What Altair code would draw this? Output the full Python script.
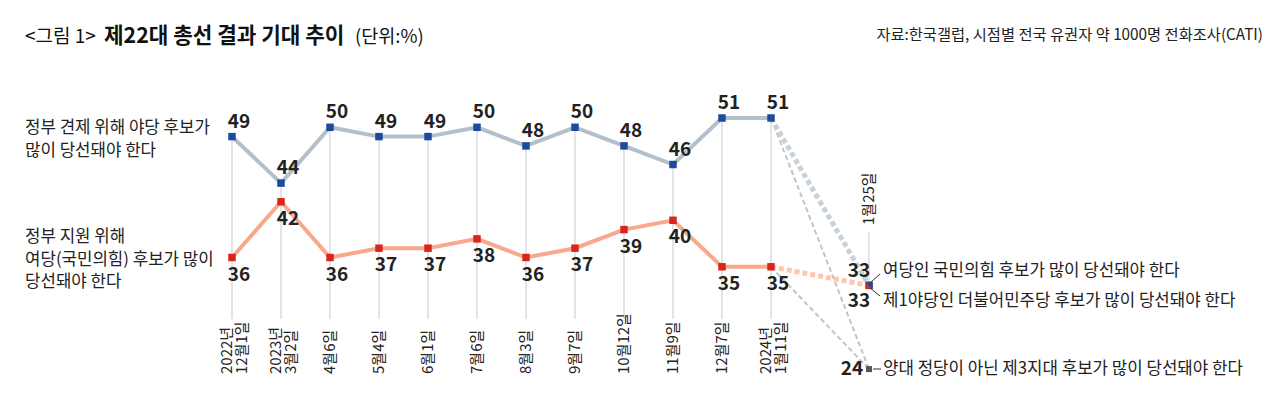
import altair as alt
import pandas as pd

# ---------------- data ----------------
dates = ["2022년\n12월1일", "2023년\n3월2일", "4월6일", "5월4일", "6월1일", "7월6일",
         "8월3일", "9월7일", "10월12일", "11월9일", "12월7일", "2024년\n1월11일"]
oppose = [49, 44, 50, 49, 49, 50, 48, 50, 48, 46, 51, 51]
support = [36, 42, 36, 37, 37, 38, 36, 37, 39, 40, 35, 35]

final_date = "1월25일"
final_labels = ["여당인 국민의힘 후보가 많이 당선돼야 한다",
                "제1야당인 더불어민주당 후보가 많이 당선돼야 한다",
                "양대 정당이 아닌 제3지대 후보가 많이 당선돼야 한다"]
final_values = [33, 33, 24]

series_names = ["정부 견제 위해 야당 후보가\n많이 당선돼야 한다",
                "정부 지원 위해\n여당(국민의힘) 후보가 많이\n당선돼야 한다"]
title_parts = ["<그림 1>", "제22대 총선 결과 기대 추이", "(단위:%)"]
source_text = "자료:한국갤럽, 시점별 전국 유권자 약 1000명 전화조사(CATI)"

FONT = "Noto Sans CJK KR"
W, H = 1264, 383

n = len(dates)
last = n - 1
fin = n + 1  # one empty slot before the final survey

main = pd.DataFrame({"i": list(range(n)), "date": dates, "opp": oppose, "sup": support,
                     "multi": [1 if "\n" in d else 0 for d in dates]})
final = pd.DataFrame({"i": [fin] * 3, "v": final_values, "lab": final_labels,
                      "num": [str(v) for v in final_values]})

xs = alt.Scale(domain=[-224 / 49, (W - 224) / 49], nice=False, zero=False)
ys = alt.Scale(domain=[51 - (H - 110) / 9.3, 51 + 110 / 9.3], nice=False, zero=False)


def X(f="i"):
    return alt.X(f"{f}:Q", scale=xs, axis=None)


def Y(f):
    return alt.Y(f"{f}:Q", scale=ys, axis=None)


base = alt.Chart(main)

grid = base.mark_rule(color="#c9c9c9", strokeWidth=1).encode(
    x=X(), y=Y("opp"), y2=alt.value(311))

fin_grid = alt.Chart(pd.DataFrame({"i": [fin], "v": [final_values[0]]})).mark_rule(
    color="#c9c9c9", strokeWidth=1).encode(x=X(), y=Y("v"), y2=alt.value(224))

# connectors from last survey to the final survey
seg_gray = pd.DataFrame({
    "seg": ["a", "a", "b", "b"],
    "i": [last, fin, last, fin],
    "v": [oppose[-1], final_values[2], support[-1], final_values[2]],
})
gray_dash = alt.Chart(seg_gray).mark_line(
    color="#c4c4c4", strokeWidth=2, strokeDash=[5, 3]).encode(
    x=X(), y=Y("v"), detail="seg:N")

blue_dash = alt.Chart(pd.DataFrame({"i": [last, fin], "v": [oppose[-1], final_values[1]]})).mark_line(
    color="#c6d1da", strokeWidth=5, strokeDash=[5, 3]).encode(x=X(), y=Y("v"))
red_dash = alt.Chart(pd.DataFrame({"i": [last, fin], "v": [support[-1], final_values[0]]})).mark_line(
    color="#fcc7b0", strokeWidth=5, strokeDash=[5, 3]).encode(x=X(), y=Y("v"))

blue_line = base.mark_line(color="#b3c0cb", strokeWidth=4).encode(x=X(), y=Y("opp"))
red_line = base.mark_line(color="#f8a98b", strokeWidth=4).encode(x=X(), y=Y("sup"))

blue_pts = base.mark_point(shape="square", filled=True, size=56, color="#1d4a9e", opacity=1).encode(
    x=X(), y=Y("opp"))
red_pts = base.mark_point(shape="square", filled=True, size=56, color="#d8261d", opacity=1).encode(
    x=X(), y=Y("sup"))

fin_red = alt.Chart(final.iloc[[0]]).mark_point(
    shape="square", filled=True, size=56, color="#d8261d", opacity=1).encode(x=X(), y=Y("v"))
fin_blue = alt.Chart(final.iloc[[1]]).mark_point(
    shape="M-1,-1L1,-1L1,1Z", filled=True, size=56, color="#1d4a9e", opacity=1).encode(x=X(), y=Y("v"))
fin_gray = alt.Chart(final.iloc[[2]]).mark_point(
    shape="square", filled=True, size=36, color="#555555", opacity=1).encode(x=X(), y=Y("v"))

# leader lines
lead1 = alt.Chart(pd.DataFrame({"a": [0]})).mark_rule(color="#333", strokeWidth=1).encode(
    x=alt.value(862), y=alt.value(275), x2=alt.value(872), y2=alt.value(266))
lead2 = alt.Chart(pd.DataFrame({"a": [0]})).mark_rule(color="#333", strokeWidth=1).encode(
    x=alt.value(862), y=alt.value(280), x2=alt.value(872), y2=alt.value(288))
lead3 = alt.Chart(pd.DataFrame({"a": [0]})).mark_rule(color="#333", strokeWidth=1).encode(
    x=alt.value(865), y=alt.value(361), x2=alt.value(873), y2=alt.value(361))

# value labels
num_style = dict(font=FONT, fontSize=19, fontWeight=600, color="#222222")
opp_lab = base.mark_text(dx=7, dy=-15, **num_style).encode(x=X(), y=Y("opp"), text="opp:Q")
sup_lab = base.mark_text(dx=7, dy=17, **num_style).encode(x=X(), y=Y("sup"), text="sup:Q")

fin_num_top = alt.Chart(final.iloc[[0]]).mark_text(dx=-10, dy=-14, **num_style).encode(
    x=X(), y=Y("v"), text="num:N")
fin_num_bot = alt.Chart(final.iloc[[1]]).mark_text(dx=-10, dy=16, **num_style).encode(
    x=X(), y=Y("v"), text="num:N")
fin_num_3 = alt.Chart(final.iloc[[2]]).mark_text(dx=-17, dy=0, **num_style).encode(
    x=X(), y=Y("v"), text="num:N")

lab_style = dict(font=FONT, fontSize=16.8, color="#222222", align="left")
fin_lab1 = alt.Chart(final.iloc[[0]]).mark_text(dx=14, dy=-14, **lab_style).encode(
    x=X(), y=Y("v"), text="lab:N")
fin_lab2 = alt.Chart(final.iloc[[1]]).mark_text(dx=14, dy=16, **lab_style).encode(
    x=X(), y=Y("v"), text="lab:N")
fin_lab3 = alt.Chart(final.iloc[[2]]).mark_text(dx=14, dy=0, **lab_style).encode(
    x=X(), y=Y("v"), text="lab:N")

# date labels (rotated)
date_style = dict(font=FONT, fontSize=15, color="#222222", angle=270, align="left",
                  baseline="middle", lineBreak="\n", lineHeight=15)
date_lab1 = base.transform_filter(alt.datum.multi == 0).mark_text(**date_style).encode(
    x=X(), y=alt.value(366), text="date:N")
date_lab2 = base.transform_filter(alt.datum.multi == 1).mark_text(dy=-5, **date_style).encode(
    x=X(), y=alt.value(366), text="date:N")
fin_date = alt.Chart(pd.DataFrame({"i": [fin], "d": [final_date]})).mark_text(
    font=FONT, fontSize=15, color="#222222", angle=270, align="left", baseline="middle").encode(
    x=X(), y=alt.value(217), text="d:N")

# series names on the left
name_df = pd.DataFrame({"t": series_names, "y": [120, 229]})
names = alt.Chart(name_df).mark_text(font=FONT, fontSize=16.8, color="#222222", align="left",
                                     baseline="middle", lineBreak="\n", lineHeight=22.5).encode(
    x=alt.value(17), y=alt.Y("y:Q", scale=alt.Scale(domain=[0, H], range=[0, H]), axis=None),
    text="t:N")

# title and source
t1 = alt.Chart(pd.DataFrame({"t": [title_parts[0]]})).mark_text(
    font=FONT, fontSize=19, color="#111111", align="left", baseline="middle").encode(
    x=alt.value(17), y=alt.value(29), text="t:N")
t2 = alt.Chart(pd.DataFrame({"t": [title_parts[1]]})).mark_text(
    font=FONT, fontSize=21.3, fontWeight="bold", color="#111111", align="left", baseline="middle").encode(
    x=alt.value(96), y=alt.value(29), text="t:N")
t3 = alt.Chart(pd.DataFrame({"t": [title_parts[2]]})).mark_text(
    font=FONT, fontSize=18.5, color="#111111", align="left", baseline="middle").encode(
    x=alt.value(347), y=alt.value(29), text="t:N")
src = alt.Chart(pd.DataFrame({"t": [source_text]})).mark_text(
    font=FONT, fontSize=15.3, color="#222222", align="right", baseline="middle").encode(
    x=alt.value(1255), y=alt.value(27), text="t:N")

chart = alt.layer(
    grid, fin_grid, gray_dash, blue_dash, red_dash, blue_line, red_line,
    blue_pts, red_pts, fin_red, fin_blue, fin_gray, lead1, lead2, lead3,
    opp_lab, sup_lab, fin_num_top, fin_num_bot, fin_num_3, fin_lab1, fin_lab2, fin_lab3,
    date_lab1, date_lab2, fin_date, names, t1, t2, t3, src,
).resolve_scale(y="independent").properties(
    width=W, height=H, padding=0, autosize=alt.AutoSizeParams(type="none"),
    background="white",
).configure_view(stroke=None)

chart.save("out.html", embed_options={"renderer": "svg", "actions": False})
